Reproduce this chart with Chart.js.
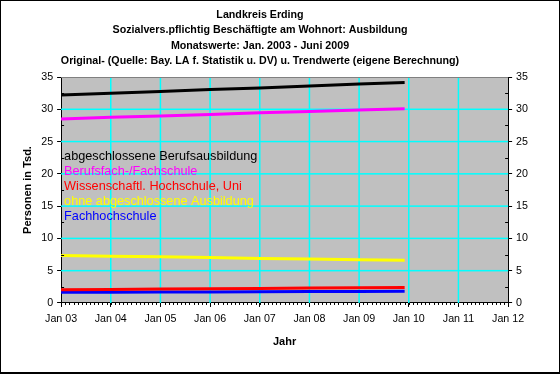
<!DOCTYPE html>
<html>
<head>
<meta charset="utf-8">
<script src="https://cdn.jsdelivr.net/npm/chart.js@4/dist/chart.umd.min.js"></script>
<style>
  html, body { margin: 0; padding: 0; background: #fff; }
  #wrap { width: 560px; height: 374px; position: relative; }
</style>
</head>
<body>
<div id="wrap"><canvas id="myChart" width="560" height="374"></canvas></div>
<script>
// Monate seit Jan 2003 (Stützpunkte der Trendlinien)
const months = [0, 12, 24, 36, 48, 60, 72, 83];
const xTickLabels = ["Jan 03", "Jan 04", "Jan 05", "Jan 06", "Jan 07", "Jan 08", "Jan 09", "Jan 10", "Jan 11", "Jan 12"];

// Werte in Tsd.
const abgeschlossene = [32.2, 32.5, 32.75, 33.05, 33.3, 33.6, 33.9, 34.15];
const berufsfach = [28.5, 28.75, 28.95, 29.2, 29.45, 29.65, 29.9, 30.1];
const wissenschaftl = [2.05, 2.1, 2.15, 2.2, 2.25, 2.3, 2.35, 2.4];
const ohneAbschluss = [7.35, 7.25, 7.15, 7.05, 6.9, 6.8, 6.7, 6.6];
const fachhochschule = [1.65, 1.67, 1.69, 1.71, 1.73, 1.76, 1.78, 1.8];

const seriesNames = [
  "abgeschlossene Berufsausbildung",
  "Berufsfach-/Fachschule",
  "Wissenschaftl. Hochschule, Uni",
  "ohne abgeschlossene Ausbildung",
  "Fachhochschule"
];
const seriesColors = ["#000000", "#ff00ff", "#ff0000", "#ffff00", "#0000ff"];
const seriesValues = [abgeschlossene, berufsfach, wissenschaftl, ohneAbschluss, fachhochschule];

const titleLines = [
  "Landkreis Erding",
  "Sozialvers.pflichtig Beschäftigte am Wohnort: Ausbildung",
  "Monatswerte: Jan. 2003 - Juni 2009",
  "Original- (Quelle: Bay. LA f. Statistik u. DV) u. Trendwerte (eigene Berechnung)"
];

const FONT = "'Liberation Sans', Arial, sans-serif";

function toPoints(values) {
  return values.map((v, i) => ({ x: months[i], y: v }));
}

// Hintergrund, Gitter, Titel, Rahmen, Nebenstriche und Legende im Diagramm
const decoPlugin = {
  id: "deco",
  beforeDraw(chart) {
    const { ctx, chartArea: a } = chart;
    ctx.save();
    ctx.fillStyle = "#ffffff";
    ctx.fillRect(0, 0, chart.width, chart.height);
    ctx.fillStyle = "#c0c0c0";
    ctx.fillRect(a.left, a.top, a.right - a.left, a.bottom - a.top);
    ctx.restore();
  },
  beforeDatasetsDraw(chart) {
    const { ctx, chartArea: a, scales } = chart;
    ctx.save();
    ctx.fillStyle = "#00ffff";
    scales.x.ticks.forEach((t) => {
      const x = scales.x.getPixelForValue(t.value);
      if (x > a.left + 1 && x < a.right - 1) ctx.fillRect(x - 0.75, a.top, 1.5, a.bottom - a.top);
    });
    scales.y.ticks.forEach((t) => {
      const y = scales.y.getPixelForValue(t.value);
      if (y > a.top + 1 && y < a.bottom - 1) ctx.fillRect(a.left, y - 0.75, a.right - a.left, 1.5);
    });
    ctx.restore();
  },
  afterDraw(chart) {
    const { ctx, chartArea: a, scales } = chart;
    ctx.save();
    // Titel
    ctx.fillStyle = "#000";
    ctx.font = "bold 10.7px " + FONT;
    ctx.textAlign = "center";
    ctx.textBaseline = "middle";
    titleLines.forEach((line, i) => ctx.fillText(line, 260, 15 + i * 15.3));
    // obere Rahmenlinie
    ctx.fillStyle = "#808080";
    ctx.fillRect(a.left, Math.round(a.top), a.right - a.left, 1);
    // Monatsstriche x-Achse
    ctx.strokeStyle = "#000";
    ctx.lineWidth = 1;
    ctx.beginPath();
    for (let m = 0; m <= 108; m++) {
      const x = Math.round(scales.x.getPixelForValue(m)) + 0.5;
      ctx.moveTo(x, a.bottom);
      ctx.lineTo(x, a.bottom + 2);
    }
    // Nebenstriche y-Achsen
    for (let v = 2.5; v < 35; v += 5) {
      const y = Math.round(scales.y.getPixelForValue(v)) + 0.5;
      ctx.moveTo(a.left, y);
      ctx.lineTo(a.left + 3, y);
      ctx.moveTo(a.right - 3, y);
      ctx.lineTo(a.right, y);
    }
    ctx.stroke();
    // Legende
    ctx.font = "12.7px " + FONT;
    ctx.textAlign = "left";
    ctx.textBaseline = "middle";
    seriesNames.forEach((name, i) => {
      ctx.fillStyle = seriesColors[i];
      ctx.fillText(name, a.left + 3, 156 + i * 15);
    });
    // Rahmen
    ctx.strokeStyle = "#000";
    ctx.strokeRect(0.5, 0.5, chart.width - 1, chart.height - 1.5);
    ctx.fillStyle = "#000";
    ctx.fillRect(0, chart.height - 2, chart.width, 2);
    ctx.restore();
  }
};

function setupChart() {
  const ctx = document.getElementById("myChart").getContext("2d");
  new Chart(ctx, {
    type: "line",
    data: {
      datasets: seriesNames.map((name, i) => ({
        label: name,
        data: toPoints(seriesValues[i]),
        borderColor: seriesColors[i],
        backgroundColor: seriesColors[i],
        borderWidth: 3,
        pointRadius: 0,
        tension: 0
      }))
    },
    options: {
      responsive: false,
      animation: false,
      layout: { padding: { left: 17, right: 28, top: 77, bottom: 21 } },
      plugins: {
        legend: { display: false },
        tooltip: { enabled: false },
        title: { display: false }
      },
      scales: {
        x: {
          type: "linear",
          min: 0,
          max: 108,
          ticks: {
            stepSize: 12,
            autoSkip: false,
            maxRotation: 0,
            color: "#000",
            font: { family: FONT, size: 10.7 },
            padding: 6,
            callback: (v) => xTickLabels[Math.round(v / 12)]
          },
          grid: { drawOnChartArea: false, tickColor: "#000", tickLength: 4 },
          border: { color: "#000" },
          title: {
            display: true,
            text: "Jahr",
            color: "#000",
            font: { family: FONT, size: 11, weight: "bold" },
            padding: { top: 4 }
          }
        },
        y: {
          min: 0,
          max: 35,
          ticks: { stepSize: 5, autoSkip: false, color: "#000", font: { family: FONT, size: 10.7 }, padding: 4 },
          grid: { drawOnChartArea: false, tickColor: "#000", tickLength: 4 },
          border: { color: "#000" },
          title: {
            display: true,
            text: "Personen in Tsd.",
            color: "#000",
            font: { family: FONT, size: 11, weight: "bold" },
            padding: { bottom: 3 }
          }
        },
        y2: {
          position: "right",
          min: 0,
          max: 35,
          ticks: { stepSize: 5, autoSkip: false, color: "#000", font: { family: FONT, size: 10.7 }, padding: 4 },
          grid: { drawOnChartArea: false, tickColor: "#000", tickLength: 4 },
          border: { color: "#000" }
        }
      }
    },
    plugins: [decoPlugin]
  });
}

setupChart();
</script>
</body>
</html>
